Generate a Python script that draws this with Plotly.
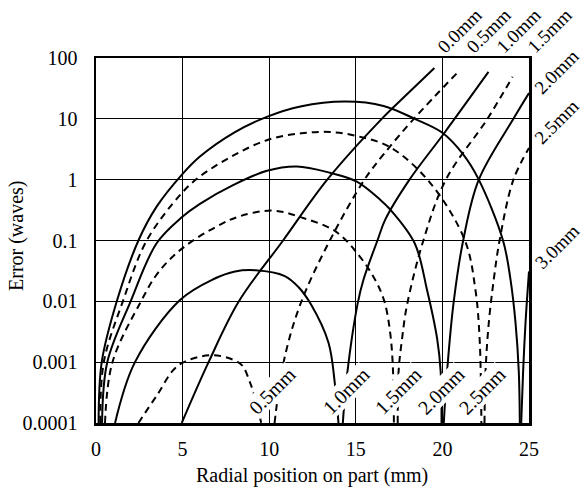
import plotly.graph_objects as go

# ---- data (x in mm, y in waves) ----
x_ticks = [0, 5, 10, 15, 20, 25]
y_tickvals = [1e-4, 1e-3, 1e-2, 1e-1, 1, 10, 100]
y_ticktext = ["0.0001", "0.001", "0.01", "0.1", "1", "10", "100"]

# 0.0 mm offset (rising only)
rise00_x = [4.95, 6.5, 8.25, 10.8, 13.35, 16.5, 18.0, 19.54]
rise00_y = [1e-4, 1e-3, 1e-2, 0.1, 1, 10, 26, 68.6]

# 0.5 mm
dome05_x = [2.45, 3.5, 4.74, 6.6, 7.9, 8.45, 8.85, 9.2, 9.54]
dome05_y = [1e-4, 2.8e-4, 8.8e-4, 1.3e-3, 1.1e-3, 8.8e-4, 5e-4, 2.5e-4, 1e-4]
rise05_x = [10.31, 10.83, 11.8, 13.5, 15.5, 16.6, 18.35, 21.0]
rise05_y = [1e-4, 1e-3, 9e-3, 0.1, 1, 2.6, 10, 63]

# 1.0 mm
dome10_x = [1.1, 2.25, 4.85, 6.8, 8.03, 9.2, 10.9, 11.7, 12.4, 13.42, 13.8, 14.0]
dome10_y = [1e-4, 1e-3, 0.0105, 0.0233, 0.031, 0.0324, 0.026, 0.017, 0.009, 0.0021, 0.00042, 1e-4]
rise10_x = [14.25, 14.49, 15.1, 15.45, 16.25, 16.7, 18.1, 20.1, 22.66]
rise10_y = [1e-4, 6e-4, 0.009, 0.023, 0.1, 0.22, 1, 5.8, 59]

# 1.5 mm
dome15_x = [0.52, 0.95, 2.6, 3.6, 5.0, 6.97, 8.3, 10.2, 11.85, 13.85, 15.2, 16.1, 16.65, 17.0, 17.15, 17.2]
dome15_y = [1e-4, 1e-3, 0.01, 0.03, 0.075, 0.17, 0.25, 0.31, 0.24, 0.14, 0.056, 0.023, 0.01, 0.0028, 0.0007, 1e-4]
rise15_x = [17.42, 17.47, 17.67, 17.95, 18.9, 20.2, 22.6, 24.05]
rise15_y = [1e-4, 7e-4, 0.0024, 0.0085, 0.1, 1, 10, 49]

# 2.0 mm
dome20_x = [0.35, 0.65, 2.0, 3.5, 4.95, 6.0, 7.94, 9.87, 11.6, 13.5, 15.06, 16.4, 17.0, 18.4, 19.1, 19.7, 19.9, 19.95]
dome20_y = [1e-4, 1e-3, 0.01, 0.09, 0.24, 0.4, 0.82, 1.4, 1.65, 1.3, 0.93, 0.47, 0.32, 0.09, 0.016, 0.0024, 0.0007, 1e-4]
rise20_x = [20.08, 20.27, 20.65, 21.2, 22.1, 24.1, 25.0]
rise20_y = [1e-4, 7e-4, 0.0097, 0.1, 1, 10, 26.5]

# 2.5 mm
dome25_x = [0.25, 0.45, 1.55, 2.93, 4.95, 6.0, 7.94, 9.9, 11.85, 13.6, 15.2, 17.0, 19.3, 21.3, 21.9, 22.15, 22.25]
dome25_y = [1e-4, 1e-3, 0.01, 0.1, 0.6, 1.13, 2.5, 4.5, 5.8, 6.05, 5.1, 3.4, 0.88, 0.1, 0.016, 0.0024, 1e-4]
rise25_x = [22.43, 22.49, 22.68, 22.97, 23.3, 24.1, 25.0]
rise25_y = [1e-4, 7e-4, 0.0045, 0.0233, 0.1, 1, 3.3]

# 3.0 mm
dome30_x = [0.15, 0.33, 1.2, 2.45, 3.5, 4.95, 6.0, 8.0, 9.9, 11.8, 14.4, 16.6, 18.4, 20.0, 21.2, 22.1, 23.5, 23.93, 24.22, 24.41, 24.47]
dome30_y = [1e-4, 1e-3, 0.01, 0.1, 0.36, 1.2, 2.4, 6.0, 10.9, 16.0, 19.2, 16.3, 10, 5.9, 2.6, 1, 0.1, 0.023, 0.0045, 0.0007, 1e-4]
rise30_x = [24.55, 24.66, 24.8, 25.0]
rise30_y = [1e-4, 7e-4, 0.0045, 0.031]

top_labels = ["0.0mm", "0.5mm", "1.0mm", "1.5mm", "2.0mm", "2.5mm", "3.0mm"]
bottom_labels = ["0.5mm", "1.0mm", "1.5mm", "2.0mm", "2.5mm"]
x_title = "Radial position on part (mm)"
y_title = "Error (waves)"

# ---- figure ----
W, H = 584, 489
ML, MR, MT, MB = 96, 55, 58, 66
PW, PH = W - ML - MR, H - MT - MB

SOLID = dict(color="black", width=2)
DASH = dict(color="black", width=2, dash="7px,5px")

segments = [
    (rise00_x, rise00_y, SOLID),
    (dome05_x, dome05_y, DASH), (rise05_x, rise05_y, DASH),
    (dome10_x, dome10_y, SOLID), (rise10_x, rise10_y, SOLID),
    (dome15_x, dome15_y, DASH), (rise15_x, rise15_y, DASH),
    (dome20_x, dome20_y, SOLID), (rise20_x, rise20_y, SOLID),
    (dome25_x, dome25_y, DASH), (rise25_x, rise25_y, DASH),
    (dome30_x, dome30_y, SOLID), (rise30_x, rise30_y, SOLID),
]

fig = go.Figure()
for xs, ys, ln in segments:
    fig.add_trace(go.Scatter(x=xs, y=ys, mode="lines", line=dict(shape="spline", smoothing=1.0, **ln),
                             showlegend=False, hoverinfo="skip"))

FONT = "Liberation Serif"

def px2paper(px, py):
    return (px - ML) / PW, (H - MB - py) / PH

label_pos_top = [(460, 31), (489, 31), (519, 31), (550, 31), (557, 72), (557, 122), (557, 246)]
label_pos_bot = [(272, 391), (346, 391), (398, 391), (441, 391), (482, 391)]

annos = []
for txt, (px, py) in zip(top_labels, label_pos_top):
    ax_, ay_ = px2paper(px, py)
    annos.append(dict(text=txt, x=ax_, y=ay_, xref="paper", yref="paper", showarrow=False,
                      textangle=-45, font=dict(family=FONT, size=19, color="black"),
                      xanchor="center", yanchor="middle", borderpad=0))
for txt, (px, py) in zip(bottom_labels, label_pos_bot):
    ax_, ay_ = px2paper(px, py)
    annos.append(dict(text=txt, x=ax_, y=ay_, xref="paper", yref="paper", showarrow=False,
                      textangle=-45, font=dict(family=FONT, size=20, color="black"),
                      bgcolor="white", borderpad=0,
                      xanchor="center", yanchor="middle"))
# axis titles
tx, ty = px2paper(16, 236)
annos.append(dict(text=y_title, x=tx, y=ty, xref="paper", yref="paper", showarrow=False,
                  textangle=-90, font=dict(family=FONT, size=20, color="black"),
                  xanchor="center", yanchor="middle"))
tx, ty = px2paper(312, 475)
annos.append(dict(text=x_title, x=tx, y=ty, xref="paper", yref="paper", showarrow=False,
                  font=dict(family=FONT, size=20, color="black"),
                  xanchor="center", yanchor="middle"))

fig.update_layout(
    width=W, height=H, autosize=False,
    margin=dict(l=ML, r=MR, t=MT, b=MB),
    paper_bgcolor="white", plot_bgcolor="white",
    font=dict(family=FONT, size=20, color="black"),
    annotations=annos,
    xaxis=dict(range=[0, 25], tickvals=x_ticks, showgrid=True, gridcolor="black", gridwidth=1.3,
               showline=True, linecolor="black", linewidth=2.5, mirror=True, ticks="",
               zeroline=False, ticklabelstandoff=6, automargin=False),
    yaxis=dict(type="log", range=[-4, 2], tickvals=y_tickvals, ticktext=y_ticktext,
               showgrid=True, gridcolor="black", gridwidth=1.3,
               showline=True, linecolor="black", linewidth=2.5, mirror=True, ticks="",
               zeroline=False, ticklabelstandoff=12, automargin=False),
)

fig.write_html("out.html", config={"displayModeBar": False, "staticPlot": True},
               post_script="document.body.style.margin='0';document.body.style.overflow='hidden';")
